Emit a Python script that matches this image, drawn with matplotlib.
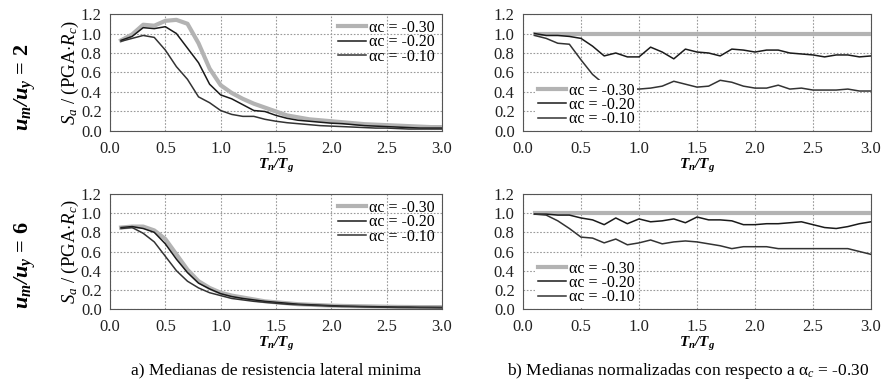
import numpy as np
import matplotlib
matplotlib.use('Agg')
import matplotlib.pyplot as plt
from matplotlib.ticker import FormatStrFormatter

plt.rcParams['font.family'] = 'Liberation Serif'
plt.rcParams['mathtext.fontset'] = 'custom'
plt.rcParams['mathtext.rm'] = 'Liberation Serif'
plt.rcParams['mathtext.it'] = 'Liberation Serif:italic'
plt.rcParams['mathtext.bf'] = 'Liberation Serif:bold'
plt.rcParams['mathtext.bfit'] = 'Liberation Serif:italic:bold'

# period ratio Tn/Tg
tn = np.round(np.arange(1, 31) * 0.1, 1)
labels = ['αc = -0.30', 'αc = -0.20', 'αc = -0.10']

# um/uy = 2, minimum lateral strength medians
r2_030 = [0.93, 0.99, 1.09, 1.08, 1.13, 1.14, 1.10, 0.90, 0.64, 0.47,
          0.39, 0.33, 0.28, 0.24, 0.20, 0.16, 0.14, 0.12, 0.11, 0.10,
          0.09, 0.08, 0.07, 0.065, 0.06, 0.055, 0.05, 0.045, 0.04, 0.04]
r2_020 = [0.93, 0.97, 1.06, 1.05, 1.07, 1.00, 0.85, 0.70, 0.48, 0.37,
          0.33, 0.27, 0.21, 0.20, 0.16, 0.13, 0.11, 0.10, 0.09, 0.08,
          0.075, 0.065, 0.055, 0.05, 0.045, 0.04, 0.035, 0.03, 0.03, 0.03]
r2_010 = [0.92, 0.95, 0.98, 0.96, 0.83, 0.66, 0.53, 0.35, 0.29, 0.21,
          0.17, 0.15, 0.15, 0.12, 0.10, 0.085, 0.075, 0.065, 0.055, 0.05,
          0.045, 0.04, 0.035, 0.03, 0.03, 0.025, 0.02, 0.02, 0.02, 0.02]

# um/uy = 2, normalised by alpha_c = -0.30
n2_030 = [1.0] * 30
n2_020 = [1.00, 0.98, 0.98, 0.97, 0.95, 0.87, 0.77, 0.80, 0.76, 0.76,
          0.86, 0.81, 0.74, 0.84, 0.81, 0.80, 0.77, 0.84, 0.83, 0.81,
          0.83, 0.83, 0.80, 0.79, 0.78, 0.76, 0.78, 0.78, 0.76, 0.77]
n2_010 = [0.98, 0.95, 0.90, 0.89, 0.73, 0.58, 0.48, 0.45, 0.43, 0.43,
          0.44, 0.46, 0.51, 0.48, 0.45, 0.46, 0.52, 0.50, 0.46, 0.44,
          0.44, 0.47, 0.43, 0.44, 0.42, 0.42, 0.42, 0.43, 0.41, 0.41]

# um/uy = 6, minimum lateral strength medians
r6_030 = [0.85, 0.86, 0.86, 0.82, 0.73, 0.57, 0.41, 0.29, 0.22, 0.17,
          0.14, 0.12, 0.10, 0.08, 0.07, 0.06, 0.05, 0.045, 0.04, 0.035,
          0.032, 0.03, 0.028, 0.026, 0.024, 0.022, 0.021, 0.02, 0.02, 0.02]
r6_020 = [0.85, 0.86, 0.84, 0.80, 0.68, 0.52, 0.38, 0.27, 0.21, 0.16,
          0.13, 0.11, 0.095, 0.08, 0.07, 0.06, 0.05, 0.045, 0.04, 0.035,
          0.03, 0.028, 0.026, 0.024, 0.022, 0.02, 0.02, 0.018, 0.018, 0.017]
r6_010 = [0.84, 0.85, 0.79, 0.70, 0.55, 0.40, 0.29, 0.22, 0.17, 0.14,
          0.11, 0.095, 0.08, 0.07, 0.06, 0.05, 0.045, 0.04, 0.035, 0.03,
          0.027, 0.025, 0.022, 0.02, 0.018, 0.016, 0.015, 0.014, 0.013, 0.012]

# um/uy = 6, normalised
n6_030 = [1.0] * 30
n6_020 = [0.99, 0.99, 0.98, 0.98, 0.95, 0.93, 0.88, 0.95, 0.89, 0.94,
          0.91, 0.92, 0.94, 0.90, 0.96, 0.93, 0.93, 0.92, 0.88, 0.88,
          0.89, 0.89, 0.90, 0.91, 0.88, 0.85, 0.84, 0.86, 0.89, 0.91]
n6_010 = [0.99, 0.98, 0.92, 0.84, 0.75, 0.74, 0.69, 0.73, 0.67, 0.69,
          0.72, 0.68, 0.70, 0.71, 0.70, 0.68, 0.66, 0.63, 0.65, 0.65,
          0.65, 0.63, 0.63, 0.63, 0.63, 0.63, 0.63, 0.63, 0.60, 0.57]

styles = [dict(color='#b3b3b3', lw=3.0, zorder=3),
          dict(color='#1a1a1a', lw=1.1, zorder=4),
          dict(color='#333333', lw=1.1, zorder=4)]

fig = plt.figure(figsize=(8.9, 3.88), dpi=100)
boxes = {
    'tl': [0.1236, 0.6624, 0.3730, 0.3015],
    'tr': [0.5876, 0.6624, 0.3911, 0.3015],
    'bl': [0.1236, 0.2036, 0.3730, 0.2964],
    'br': [0.5876, 0.2036, 0.3911, 0.2964],
}
panels = {
    'tl': (r2_030, r2_020, r2_010),
    'tr': (n2_030, n2_020, n2_010),
    'bl': (r6_030, r6_020, r6_010),
    'br': (n6_030, n6_020, n6_010),
}

for key, series in panels.items():
    ax = fig.add_axes(boxes[key])
    for ys, st, lab in zip(series, styles, labels):
        ax.plot(tn, ys, label=lab, solid_joinstyle='round', **st)
    ax.set_xlim(0, 3.0)
    ax.set_ylim(0, 1.2)
    ax.set_xticks(np.arange(0, 3.01, 0.5))
    ax.set_yticks(np.arange(0, 1.21, 0.2))
    ax.xaxis.set_major_formatter(FormatStrFormatter('%.1f'))
    ax.yaxis.set_major_formatter(FormatStrFormatter('%.1f'))
    ax.grid(True, color='#9a9a9a', lw=0.8, linestyle=(0, (1.5, 1.5)))
    ax.set_axisbelow(True)
    ax.tick_params(length=0, labelsize=12, colors='#222222')
    ax.tick_params(axis='x', pad=7)
    ax.tick_params(axis='y', pad=6)
    for sp in ax.spines.values():
        sp.set_color('#555555')
        sp.set_linewidth(0.8)
    ax.set_xlabel(r'$\mathbfit{T_n/T_g}$', fontsize=11, labelpad=0)
    common = dict(fontsize=11.5, handlelength=1.8, handletextpad=0.15,
                  labelspacing=-0.1, borderpad=0.15)
    if key in ('tl', 'bl'):
        ax.set_ylabel(r'$S_a$ / (PGA$\cdot R_c$)', fontsize=13.5, labelpad=0)
        leg = ax.legend(loc='upper right', frameon=False,
                        borderaxespad=0.0, bbox_to_anchor=(0.985, 0.97), **common)
    else:
        leg = ax.legend(loc='lower left', frameon=True,
                        borderaxespad=0.0, bbox_to_anchor=(0.035, 0.01),
                        fancybox=False, edgecolor='none', framealpha=1.0,
                        **common)
        leg.set_zorder(5)

fig.text(0.028, 0.776, r'$\mathbfit{u_m/u_y}$ = 2', rotation=90, fontsize=16,
         fontweight='bold', ha='center', va='center')
fig.text(0.028, 0.317, r'$\mathbfit{u_m/u_y}$ = 6', rotation=90, fontsize=16,
         fontweight='bold', ha='center', va='center')

fig.text(0.31, 0.045, 'a) Medianas de resistencia lateral minima', fontsize=12.5,
         ha='center', va='center')
fig.text(0.773, 0.045, r'b) Medianas normalizadas con respecto a $\mathrm{\alpha}_c$ = -0.30',
         fontsize=12.5, ha='center', va='center')

fig.savefig('out.png', dpi=100, facecolor='white')
